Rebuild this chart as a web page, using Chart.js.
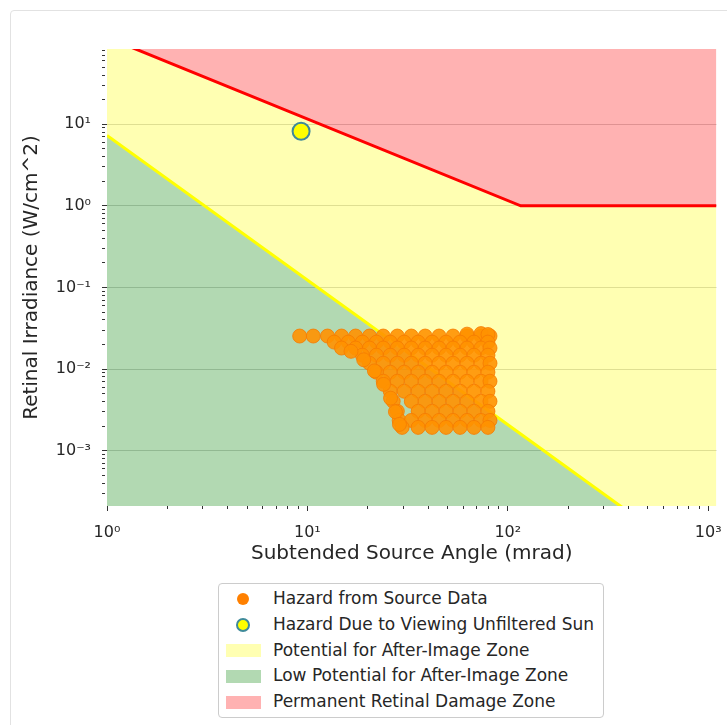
<!DOCTYPE html>
<html>
<head>
<meta charset="utf-8">
<title>Retinal Irradiance vs Subtended Source Angle</title>
<script src="https://cdn.jsdelivr.net/npm/chart.js@4.4.0/dist/chart.umd.min.js"></script>
<style>
  html, body { margin: 0; padding: 0; background: #fff; }
  body { width: 727px; height: 725px; position: relative; overflow: hidden; font-family: 'DejaVu Sans', sans-serif; }
  #card { position: absolute; left: 10px; top: 10px; width: 760px; height: 760px; border: 1px solid #e2e2e2; border-radius: 4px; box-sizing: border-box; }
  #chart { position: absolute; left: 0; top: 0; }
  #legend { position: absolute; left: 218px; top: 583px; width: 386px; height: 135px; border: 1px solid #cccccc; border-radius: 4px; background: #fff; box-sizing: border-box; padding-top: 2px; }
  .item { position: relative; height: 25.8px; line-height: 25.8px; font-size: 17px; color: #262626; white-space: nowrap; }
  .item .txt { position: absolute; left: 54px; top: 0; }
  .mk { position: absolute; box-sizing: border-box; }
</style>
</head>
<body>
<div id="card"></div>
<canvas id="chart" width="727" height="575"></canvas>
<div id="legend"></div>
<script>
// Axis ranges (mrad, W/cm^2)
const angleMin = 1, angleMax = 1100;
const irrMin = 2.1e-4, irrMax = 83.6;

// Decade ticks and their labels
const angleMajorTicks = [1, 10, 100, 1000];
const angleTickLabels = ['10\u2070', '10\u00b9', '10\u00b2', '10\u00b3'];
const irrMajorTicks = [0.001, 0.01, 0.1, 1, 10];
const irrTickLabels = ['10\u207b\u00b3', '10\u207b\u00b2', '10\u207b\u00b9', '10\u2070', '10\u00b9'];

// Zone boundaries
const damageLimitAngle = [1, 116, 1100];
const damageLimitIrr = [116, 1, 1];
const afterImageLimitAngle = [1, 116, 1100];
const afterImageLimitIrr = [7.3, 1.6e-3, 2.96e-5];

// Unfiltered sun
const sunAngle = [9.3];
const sunIrr = [8.2];

// Measured source hazards
const sourceAngle = [
  9.15, 10.7, 12.6, 14.8, 17.4, 20.4, 23.9, 28.1, 33.0, 38.7, 45.4, 53.3, 62.6, 73.5, 81.5,
  62.6, 73.5, 79.6,
  13.6, 16.0, 18.8, 22.1, 25.9, 30.4, 35.7, 41.9, 49.2, 57.8, 67.8, 79.6,
  14.8, 17.4, 20.4, 23.9, 28.1, 33.0, 38.7, 45.4, 53.3, 62.6, 73.5, 81.5,
  18.8, 22.1, 25.9, 30.4, 35.7, 41.9, 49.2, 57.8, 67.8, 79.6,
  20.4, 23.9, 28.1, 33.0, 38.7, 45.4, 53.3, 62.6, 73.5, 81.5,
  22.1, 25.9, 30.4, 35.7, 41.9, 49.2, 57.8, 67.8, 79.6,
  23.9, 28.1, 33.0, 38.7, 45.4, 53.3, 62.6, 73.5, 81.5,
  25.9, 30.4, 35.7, 41.9, 49.2, 57.8, 67.8, 79.6,
  26.8, 33.0, 38.7, 45.4, 53.3, 62.6, 73.5, 81.5,
  28.1, 35.7, 41.9, 49.2, 57.8, 67.8, 79.6,
  28.7, 33.0, 38.7, 45.4, 53.3, 62.6, 73.5, 81.5,
  29.7, 35.7, 41.9, 49.2, 57.8, 67.8, 79.6,
  16.5, 19.1, 21.6, 24.0, 26.0, 27.5, 28.8
];
const sourceIrr = [
  0.0254, 0.0254, 0.0254, 0.0254, 0.0254, 0.0254, 0.0254, 0.0254, 0.0254, 0.0254, 0.0254, 0.0254, 0.0254, 0.0254, 0.0254,
  0.0268, 0.0272, 0.0265,
  0.0214, 0.0214, 0.0214, 0.0214, 0.0214, 0.0214, 0.0214, 0.0214, 0.0214, 0.0214, 0.0214, 0.0214,
  0.0181, 0.0181, 0.0181, 0.0181, 0.0181, 0.0181, 0.0181, 0.0181, 0.0181, 0.0181, 0.0181, 0.0181,
  0.0148, 0.0148, 0.0148, 0.0148, 0.0148, 0.0148, 0.0148, 0.0148, 0.0148, 0.0148,
  0.0118, 0.0118, 0.0118, 0.0118, 0.0118, 0.0118, 0.0118, 0.0118, 0.0118, 0.0118,
  0.00916, 0.00916, 0.00916, 0.00916, 0.00916, 0.00916, 0.00916, 0.00916, 0.00916,
  0.0071, 0.0071, 0.0071, 0.0071, 0.0071, 0.0071, 0.0071, 0.0071, 0.0071,
  0.00535, 0.00535, 0.00535, 0.00535, 0.00535, 0.00535, 0.00535, 0.00535,
  0.00403, 0.00403, 0.00403, 0.00403, 0.00403, 0.00403, 0.00403, 0.00403,
  0.00304, 0.00304, 0.00304, 0.00304, 0.00304, 0.00304, 0.00304,
  0.00235, 0.00235, 0.00235, 0.00235, 0.00235, 0.00235, 0.00235, 0.00235,
  0.00193, 0.00193, 0.00193, 0.00193, 0.00193, 0.00193, 0.00193,
  0.0165, 0.013, 0.0095, 0.0065, 0.0044, 0.003, 0.0021
];

const FONT = "'DejaVu Sans', sans-serif";
const TEXT = '#262626';
const TICK = '#333333';

const zip = (xs, ys) => xs.map((x, i) => ({ x: x, y: ys[i] }));

// Decade ticks plus the 2..9 minor ticks of every decade inside the range
function logTicks(min, max, majors) {
  const out = [];
  const lo = Math.floor(Math.log10(min)), hi = Math.ceil(Math.log10(max));
  for (let e = lo; e <= hi; e++) {
    for (let m = 1; m <= 9; m++) {
      const v = parseFloat((m * Math.pow(10, e)).toPrecision(6));
      if (v < min * 0.9999 || v > max * 1.0001) continue;
      out.push({ value: v, major: m === 1 && majors.some(t => Math.abs(t - v) / t < 1e-6) });
    }
  }
  return out;
}
function labelFor(value, majors, labels) {
  const i = majors.findIndex(t => Math.abs(t - value) / t < 1e-6);
  return i >= 0 ? labels[i] : '';
}
const minorDash = ctx => (ctx.tick && ctx.tick.major) ? [] : [3, 10];

const chart = new Chart(document.getElementById('chart'), {
  type: 'scatter',
  data: {
    datasets: [
      {
        label: 'Hazard from Source Data',
        data: zip(sourceAngle, sourceIrr),
        backgroundColor: 'rgba(255,146,0,0.9)',
        borderColor: 'rgba(245,122,0,0.8)',
        borderWidth: 1,
        pointRadius: 7,
        pointHoverRadius: 7,
        legendColor: '#ff8000',
        legendMarker: 'dot'
      },
      {
        label: 'Hazard Due to Viewing Unfiltered Sun',
        data: zip(sunAngle, sunIrr),
        backgroundColor: '#ffff00',
        borderColor: '#3f8a9a',
        borderWidth: 2,
        pointRadius: 8.5,
        pointHoverRadius: 8.5,
        legendMarker: 'ring'
      },
      {
        type: 'line',
        label: 'Potential for After-Image Zone',
        data: zip(damageLimitAngle, damageLimitIrr),
        showLine: true,
        borderColor: 'transparent',
        borderWidth: 1,
        pointRadius: 0,
        tension: 0,
        fill: 3,
        backgroundColor: 'rgba(255,255,0,0.3)',
        clip: 0,
        legendMarker: 'patch'
      },
      {
        type: 'line',
        label: 'Low Potential for After-Image Zone',
        data: zip(afterImageLimitAngle, afterImageLimitIrr),
        showLine: true,
        borderColor: '#ffff00',
        borderWidth: 3,
        pointRadius: 0,
        tension: 0,
        fill: 'start',
        backgroundColor: 'rgba(0,128,0,0.3)',
        clip: 0,
        legendMarker: 'patch'
      },
      {
        type: 'line',
        label: 'Permanent Retinal Damage Zone',
        data: zip(damageLimitAngle, damageLimitIrr),
        showLine: true,
        borderColor: '#ff0000',
        borderWidth: 3,
        pointRadius: 0,
        tension: 0,
        fill: 'end',
        backgroundColor: 'rgba(255,0,0,0.3)',
        clip: 0,
        legendMarker: 'patch'
      }
    ]
  },
  options: {
    responsive: false,
    animation: false,
    devicePixelRatio: 1,
    events: [],
    layout: { padding: { top: 49, right: 9, left: 0, bottom: 0 } },
    plugins: {
      legend: { display: false },
      tooltip: { enabled: false },
      filler: { drawTime: 'beforeDatasetsDraw' }
    },
    scales: {
      x: {
        type: 'logarithmic',
        position: 'bottom',
        min: angleMin,
        max: angleMax,
        afterBuildTicks: s => { s.ticks = logTicks(angleMin, angleMax, angleMajorTicks); },
        afterFit: s => { s.height = 69; s.paddingLeft = 0; s.paddingRight = 0; },
        border: { display: false },
        grid: {
          drawOnChartArea: false,
          tickLength: 5,
          tickColor: TICK,
          tickWidth: 1,
          tickBorderDash: minorDash
        },
        ticks: {
          autoSkip: false,
          maxRotation: 0,
          minRotation: 0,
          padding: 12,
          color: TEXT,
          font: { family: FONT, size: 16 },
          callback: v => labelFor(v, angleMajorTicks, angleTickLabels)
        },
        title: {
          display: true,
          text: 'Subtended Source Angle (mrad)',
          color: TEXT,
          font: { family: FONT, size: 20 },
          padding: { top: 0, bottom: 9 }
        }
      },
      y: {
        type: 'logarithmic',
        position: 'left',
        min: irrMin,
        max: irrMax,
        afterBuildTicks: s => { s.ticks = logTicks(irrMin, irrMax, irrMajorTicks); },
        afterFit: s => { s.width = 107; s.paddingTop = 0; s.paddingBottom = 0; },
        border: { display: false },
        grid: {
          drawOnChartArea: true,
          color: ctx => (ctx.tick && ctx.tick.major) ? 'rgba(140,140,140,0.4)' : 'rgba(0,0,0,0)',
          lineWidth: 1,
          tickLength: 5,
          tickColor: TICK,
          tickWidth: 1,
          tickBorderDash: minorDash
        },
        ticks: {
          autoSkip: false,
          padding: 11,
          color: TEXT,
          font: { family: FONT, size: 16 },
          callback: v => labelFor(v, irrMajorTicks, irrTickLabels)
        },
        title: {
          display: true,
          text: 'Retinal Irradiance (W/cm^2)',
          color: TEXT,
          font: { family: FONT, size: 20 },
          padding: { top: 20, bottom: 0 }
        }
      }
    }
  }
});

// Legend box, one row per dataset
(function buildLegend() {
  const box = document.getElementById('legend');
  chart.data.datasets.forEach(ds => {
    const row = document.createElement('div');
    row.className = 'item';
    const mk = document.createElement('div');
    mk.className = 'mk';
    if (ds.legendMarker === 'dot') {
      Object.assign(mk.style, { left: '18px', top: '6.9px', width: '12px', height: '12px', borderRadius: '50%', background: ds.legendColor || ds.backgroundColor });
    } else if (ds.legendMarker === 'ring') {
      Object.assign(mk.style, { left: '17px', top: '5.9px', width: '14px', height: '14px', borderRadius: '50%', background: ds.backgroundColor, border: '2px solid ' + ds.borderColor });
    } else {
      Object.assign(mk.style, { left: '7px', top: '6.4px', width: '35px', height: '13px', background: ds.backgroundColor });
    }
    const txt = document.createElement('span');
    txt.className = 'txt';
    txt.textContent = ds.label;
    row.appendChild(mk);
    row.appendChild(txt);
    box.appendChild(row);
  });
})();
</script>
</body>
</html>
